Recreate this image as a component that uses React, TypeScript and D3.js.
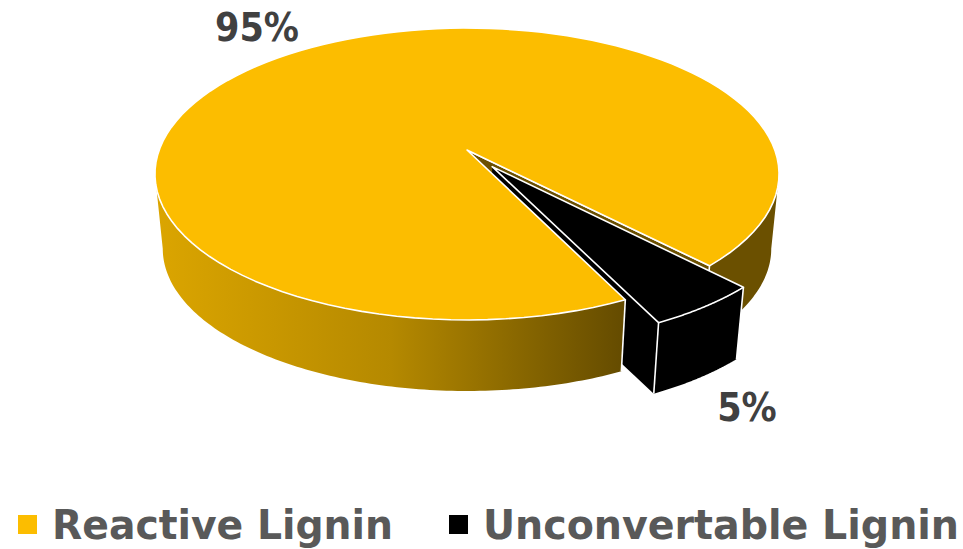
import React from "react";
import * as d3 from "d3";

const categories = ["Reactive Lignin", "Unconvertable Lignin"];
const values = [95, 5];
const labels = ["95%", "5%"];
const colors = ["#FCBD00", "#000000"];

const W = 963, H = 549;
const CX = 467, CY = 150, BX = 307.8, AY = 142, P = 0.1644;
const DEPTH_SCALE = 0.975, DEPTH_Y = 75.3, EXPLODE = 0.14;
const FONT = "'DejaVu Sans Condensed','DejaVu Sans',sans-serif";

type Pt = [number, number];
// unit disc -> screen, perspective view of the pie's top face
const top = (u: number, v: number): Pt => {
  const w = 1 - P * v;
  return [CX + (BX * u) / w, CY + (AY * v) / w];
};
const bottom = (u: number, v: number): Pt => {
  const [x, y] = top(u, v);
  return [CX + DEPTH_SCALE * (x - CX), CY + DEPTH_Y + DEPTH_SCALE * (y - CY)];
};
// d3 pie angle: 0 at 12 o'clock, clockwise
const rim = (a: number, ox = 0, oy = 0): Pt => [Math.sin(a) + ox, -Math.cos(a) + oy];
const line = d3.line<Pt>().x((d) => d[0]).y((d) => d[1]);
const closed = (pts: Pt[]) => line(pts)! + "Z";
const arcAngles = (a0: number, a1: number) => d3.range(0, 121).map((i) => a0 + ((a1 - a0) * i) / 120);

const rad = (deg: number) => (deg * Math.PI) / 180;
const arcs = d3.pie<number>().sort(null).startAngle(rad(154)).endAngle(rad(154 + 360))(values);

const wall = (a0: number, a1: number, ox = 0, oy = 0) => {
  const as = arcAngles(a0, a1);
  return closed([
    ...as.map((a) => { const [u, v] = rim(a, ox, oy); return top(u, v); }),
    ...as.slice().reverse().map((a) => { const [u, v] = rim(a, ox, oy); return bottom(u, v); }),
  ]);
};
const face = (a0: number, a1: number, ox = 0, oy = 0) => {
  const as = arcAngles(a0, a1);
  return closed([top(ox, oy), ...as.map((a) => { const [u, v] = rim(a, ox, oy); return top(u, v); })]);
};
const cut = (a: number, ox = 0, oy = 0) => {
  const [u, v] = rim(a, ox, oy);
  return closed([top(ox, oy), top(u, v), bottom(u, v), bottom(ox, oy)]);
};
const edge = (a: number, ox = 0, oy = 0) => {
  const [u, v] = rim(a, ox, oy);
  return line([top(u, v), bottom(u, v)])!;
};

export default function App() {
  const [main, small] = arcs;
  const mid = (small.startAngle + small.endAngle) / 2;
  const ox = Math.sin(mid) * EXPLODE, oy = -Math.cos(mid) * EXPLODE;
  const sA = small.startAngle, sB = small.endAngle;
  const stroke = { stroke: "#fff", strokeWidth: 1.6, strokeLinejoin: "round" as const };
  return (
    <svg width={W} height={H} style={{ position: "absolute", left: 0, top: 0, background: "#fff" }}>
      <defs>
        <linearGradient id="side" gradientUnits="userSpaceOnUse" x1={157} x2={625} y1={0} y2={0}>
          <stop offset="0" stopColor="#DBA500" />
          <stop offset="0.5" stopColor="#B58900" />
          <stop offset="1" stopColor="#644B00" />
        </linearGradient>
      </defs>
      {/* main slice: far wall and inner cut */}
      <path d={wall(rad(99.5), rad(136))} fill="#6B5000" />
      <path d={cut(main.endAngle)} fill="#6B5000" {...stroke} />
      {/* hidden-side wall of the exploded slice, seen through the gap */}
      <path d={cut(sB, ox, oy)} fill={colors[1]} />
      {/* main slice: front wall and top */}
      <path d={wall(main.startAngle, rad(260.5))} fill="url(#side)" />
      <path d={edge(main.startAngle)} fill="none" {...stroke} />
      <path d={face(main.startAngle, main.endAngle)} fill={colors[0]} {...stroke} />
      {/* exploded slice */}
      <path d={wall(sA, sB, ox, oy)} fill={colors[1]} />
      <path d={edge(sA, ox, oy)} fill="none" {...stroke} />
      <path d={edge(sB, ox, oy)} fill="none" {...stroke} />
      <path d={face(sA, sB, ox, oy)} fill={colors[1]} {...stroke} />
      {/* data labels */}
      <text x={257} y={41} textAnchor="middle" fontFamily={FONT} fontWeight="700" fontSize={39} fill="#404040">{labels[0]}</text>
      <text x={747} y={421} textAnchor="middle" fontFamily={FONT} fontWeight="700" fontSize={39} fill="#404040">{labels[1]}</text>
      {/* legend */}
      <rect x={18} y={515} width={19} height={19} fill={colors[0]} />
      <text x={52} y={539} fontFamily={FONT} fontWeight="700" fontSize={41} fill="#595959" textLength={341} lengthAdjust="spacingAndGlyphs">{categories[0]}</text>
      <rect x={449} y={515} width={19} height={19} fill={colors[1]} />
      <text x={483} y={539} fontFamily={FONT} fontWeight="700" fontSize={41} fill="#595959" textLength={476} lengthAdjust="spacingAndGlyphs">{categories[1]}</text>
    </svg>
  );
}
